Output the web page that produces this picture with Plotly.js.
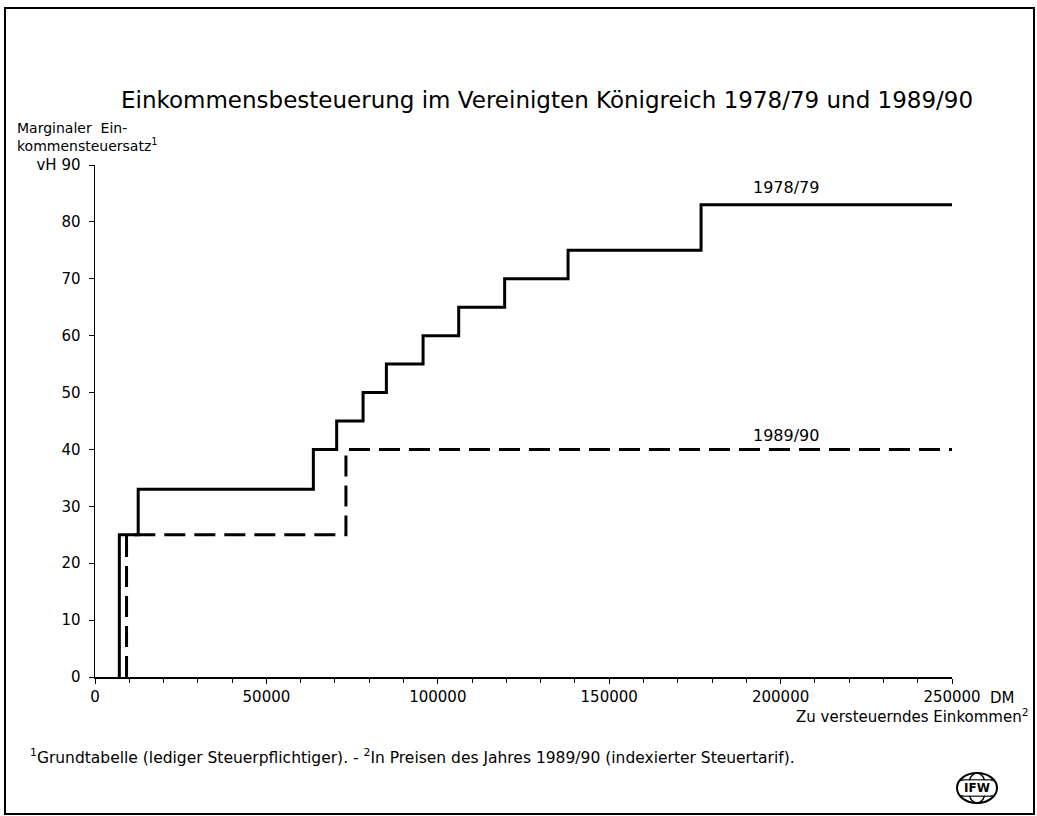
<!DOCTYPE html>
<html>
<head>
<meta charset="utf-8">
<script src="https://cdn.plot.ly/plotly-3.0.1.min.js"></script>
<style>html,body{margin:0;padding:0;background:#fff;}#chart{width:1037px;height:816px;}</style>
</head>
<body>
<div id="chart"></div>
<script>
// Data: bracket start incomes (DM) and marginal rates (vH)
const thresholds7879 = [7100, 12600, 63700, 70500, 78200, 85000, 95700, 106100, 119500, 138000, 176800];
const rates7879 = [25, 33, 40, 45, 50, 55, 60, 65, 70, 75, 83];
const thresholds8990 = [9200, 73200];
const rates8990 = [25, 40];
const xMax = 250000;
const xTickVals = [0, 50000, 100000, 150000, 200000, 250000];
const xTickText = ['0', '50000', '100000', '150000', '200000', '250000'];
const yTickVals = [0, 10, 20, 30, 40, 50, 60, 70, 80, 90];
const yTickText = ['0', '10', '20', '30', '40', '50', '60', '70', '80', 'vH 90'];

function stepSeries(th, rt) {
  const x = [th[0]].concat(th, [xMax]);
  const y = [0].concat(rt, [rt[rt.length - 1]]);
  return {x, y};
}
const s1 = stepSeries(thresholds7879, rates7879);
const s2 = stepSeries(thresholds8990, rates8990);

const FONT = 'DejaVu Sans, Verdana, sans-serif';
const W = 1037, H = 816;
const L = 95, R = 952, T = 165, B = 677;
const px = x => (x - L) / (R - L);
const py = y => (B - y) / (B - T);

const traces = [
  {x: s1.x, y: s1.y, mode: 'lines', line: {shape: 'hv', color: '#000', width: 3}, hoverinfo: 'skip'},
  {x: s2.x, y: s2.y, mode: 'lines', line: {shape: 'hv', color: '#000', width: 3, dash: '21px,9px'}, hoverinfo: 'skip'}
];

const layout = {
  width: W, height: H,
  margin: {l: L, r: W - R, t: T, b: H - B},
  paper_bgcolor: '#fff', plot_bgcolor: '#fff',
  showlegend: false,
  font: {family: FONT, color: '#000', size: 15},
  title: {text: 'Einkommensbesteuerung im Vereinigten Königreich 1978/79 und 1989/90',
          x: 547 / W, xanchor: 'center', xref: 'paper', y: 1 - 100 / H, yanchor: 'middle', yref: 'container',
          font: {family: FONT, size: 23, color: '#000'}},
  xaxis: {range: [0, xMax], showgrid: false, zeroline: false, showline: true, linecolor: '#000', linewidth: 1.5,
          ticks: 'outside', ticklen: 5, tickcolor: '#000', tickvals: xTickVals, ticktext: xTickText,
          minor: {dtick: 10000, ticks: 'outside', ticklen: 4, tickcolor: '#000', showgrid: false},
          tickfont: {size: 15}, fixedrange: true},
  yaxis: {range: [0, 90], showgrid: false, zeroline: false, showline: true, linecolor: '#000', linewidth: 1.5,
          ticks: 'outside', ticklen: 5, tickcolor: '#000', tickvals: yTickVals, ticktext: yTickText,
          ticklabelstandoff: 5, tickfont: {size: 15}, fixedrange: true},
  annotations: [
    {xref: 'paper', yref: 'paper', x: px(15), y: py(118), xanchor: 'left', yanchor: 'top', align: 'left',
     text: 'Marginaler  Ein-<br>kommensteuersatz<sup>1</sup>', showarrow: false, font: {size: 14}},
    {xref: 'paper', yref: 'paper', x: px(1030), y: py(716), xanchor: 'right', yanchor: 'middle',
     text: 'Zu versteuerndes Einkommen<sup>2</sup>', showarrow: false, font: {size: 15}},
    {xref: 'paper', yref: 'paper', x: px(988), y: py(698), xanchor: 'left', yanchor: 'middle',
     text: 'DM', showarrow: false, font: {size: 15}},
    {xref: 'paper', yref: 'paper', x: px(786), y: py(187), xanchor: 'center', yanchor: 'middle',
     text: '1978/79', showarrow: false, font: {size: 16}},
    {xref: 'paper', yref: 'paper', x: px(786), y: py(435), xanchor: 'center', yanchor: 'middle',
     text: '1989/90', showarrow: false, font: {size: 16}},
    {xref: 'paper', yref: 'paper', x: px(28), y: py(756), xanchor: 'left', yanchor: 'middle',
     text: '<sup>1</sup>Grundtabelle (lediger Steuerpflichtiger). - <sup>2</sup>In Preisen des Jahres 1989/90 (indexierter Steuertarif).',
     showarrow: false, font: {size: 15.5}},
    {xref: 'paper', yref: 'paper', x: px(977), y: py(788), xanchor: 'center', yanchor: 'middle',
     text: '<b>IFW</b>', showarrow: false, font: {size: 12}, bgcolor: '#fff', borderpad: 0}
  ],
  shapes: [
    {type: 'rect', xref: 'paper', yref: 'paper', x0: px(5), x1: px(1034), y0: py(8), y1: py(814),
     line: {color: '#000', width: 2}},
    {type: 'circle', xref: 'paper', yref: 'paper', x0: px(957), x1: px(997), y0: py(773), y1: py(803),
     line: {color: '#000', width: 2}},
    {type: 'circle', xref: 'paper', yref: 'paper', x0: px(968), x1: px(986), y0: py(773), y1: py(803),
     line: {color: '#000', width: 1.5}},
    {type: 'line', xref: 'paper', yref: 'paper', x0: px(960), x1: px(994), y0: py(780), y1: py(780),
     line: {color: '#000', width: 1.5}},
    {type: 'line', xref: 'paper', yref: 'paper', x0: px(960), x1: px(994), y0: py(796), y1: py(796),
     line: {color: '#000', width: 1.5}}
  ]
};

Plotly.newPlot('chart', traces, layout, {displayModeBar: false, staticPlot: true});
</script>
</body>
</html>
